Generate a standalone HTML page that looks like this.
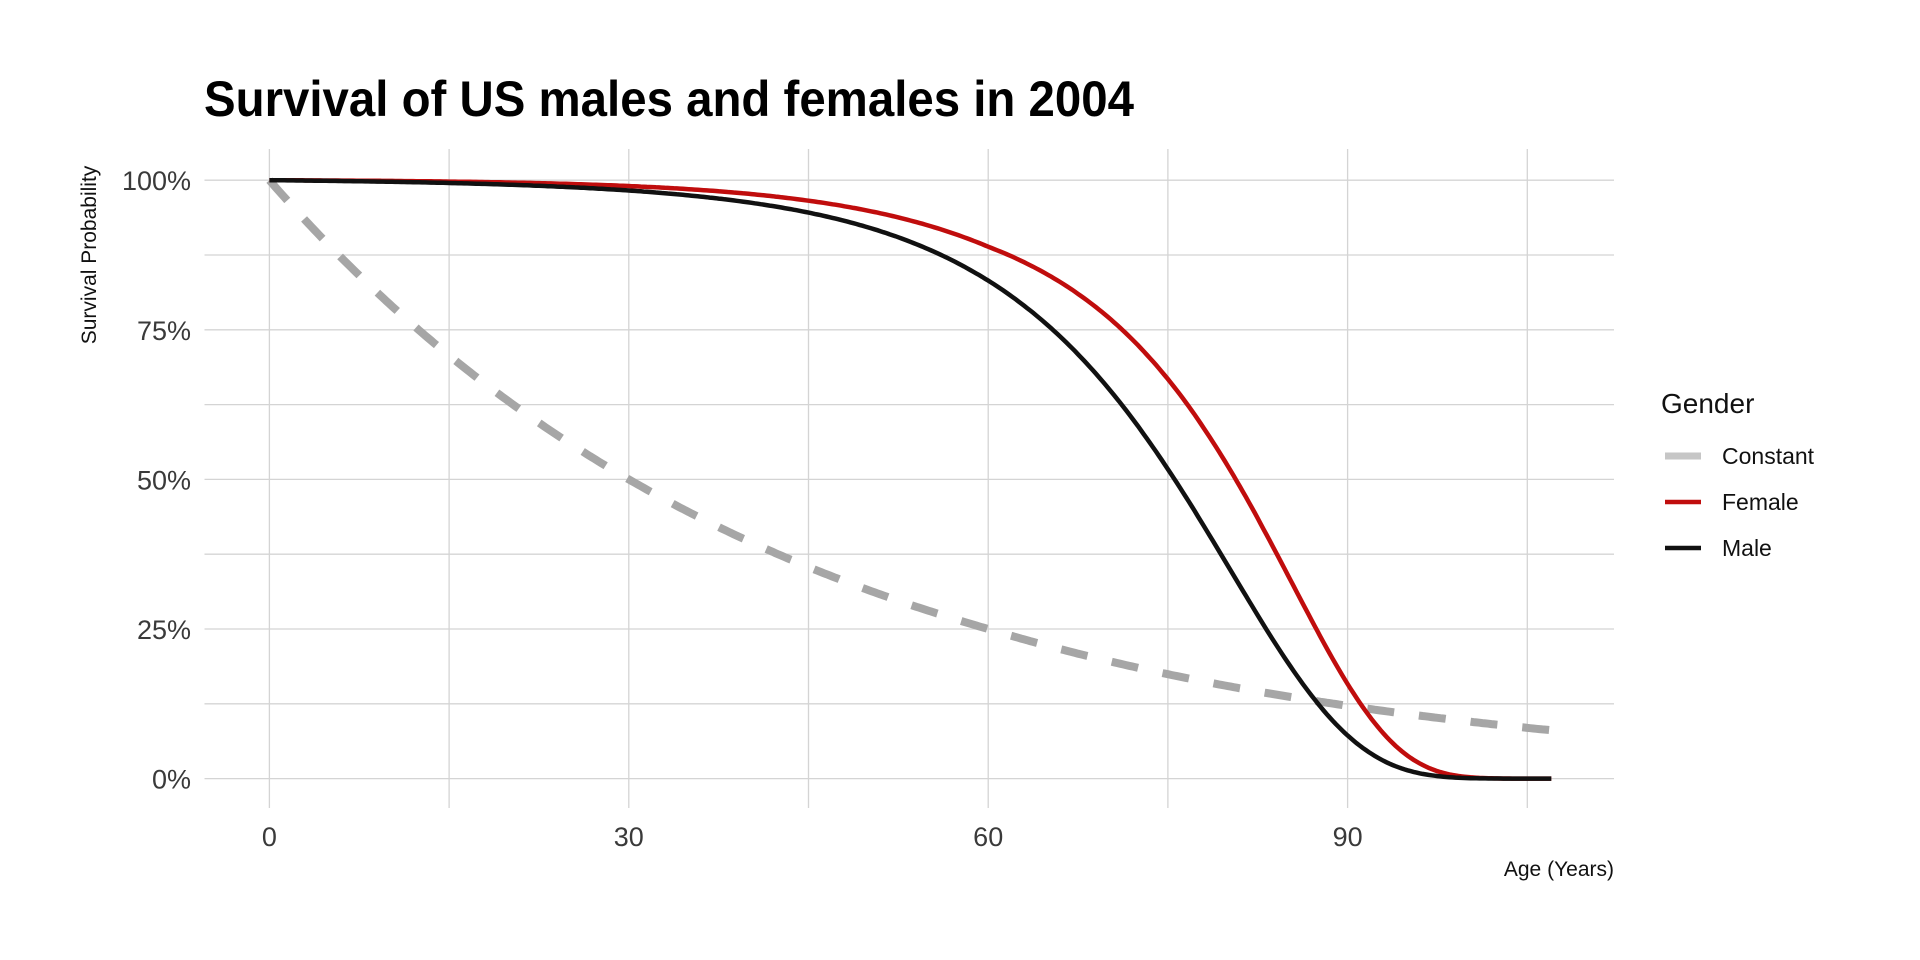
<!DOCTYPE html>
<html><head><style>body{margin:0;background:#fff}svg{display:block}text{font-family:"Liberation Sans",sans-serif}</style></head>
<body>
<svg id="s" width="1920" height="960" viewBox="0 0 1920 960" xmlns="http://www.w3.org/2000/svg">
<text x="204" y="116" font-size="50" font-weight="bold" fill="#000" textLength="930" lengthAdjust="spacingAndGlyphs">Survival of US males and females in 2004</text>
<g id="grid" stroke="#d4d4d4" stroke-width="1.3"></g>
<g id="lab" fill="#3a3a3a" font-size="27"></g>
<text transform="translate(96,255) rotate(-90)" text-anchor="middle" font-size="21" fill="#111">Survival Probability</text>
<text x="1614" y="876" text-anchor="end" font-size="21" fill="#111">Age (Years)</text>
<g id="curves" fill="none"></g>
<text x="1661" y="413" font-size="28" fill="#111">Gender</text>
<line x1="1665" y1="456" x2="1701" y2="456" stroke="#c6c6c6" stroke-width="7"/>
<line x1="1665" y1="502" x2="1701" y2="502" stroke="#c00d0d" stroke-width="4.5"/>
<line x1="1665" y1="548" x2="1701" y2="548" stroke="#111" stroke-width="4.5"/>
<text x="1722" y="464" font-size="23" fill="#111">Constant</text>
<text x="1722" y="510" font-size="23" fill="#111">Female</text>
<text x="1722" y="556" font-size="23" fill="#111">Male</text>
</svg>
<script>
var NS="http://www.w3.org/2000/svg";
function X(a){return 269.4+11.98*a}function Y(p){return 778.6-5.984*p}
function el(t,at,par,txt){var e=document.createElementNS(NS,t);for(var k in at)e.setAttribute(k,at[k]);if(txt!==undefined)e.textContent=txt;document.getElementById(par).appendChild(e);return e}
for(var p=0;p<=100;p+=12.5)el('line',{x1:204.5,x2:1614,y1:Y(p),y2:Y(p)},'grid');
for(var a=0;a<=105;a+=15)el('line',{x1:X(a),x2:X(a),y1:149,y2:808},'grid');
[0,25,50,75,100].forEach(function(p){el('text',{x:191,y:Y(p)+10,'text-anchor':'end'},'lab',p+'%')});
[0,30,60,90].forEach(function(a){el('text',{x:X(a),y:846,'text-anchor':'middle'},'lab',String(a))});
function surv(A,B,C,L){var H=function(a){var t=a-60,lh=(t<0&&L)?A+L*t:A+B*t+C*t*t;return Math.exp(lh)};var H0=H(0);
  return function(a){return 100*Math.exp(-(H(a)-H0))}}
var fem=surv(-2.13,0.0721,0.000644,0.08);
var male=surv(-1.674,0.0804,0.000256,0);
var cons=function(a){return 100*Math.exp(-a*Math.LN2/30)*(1-0.0009*Math.max(0,a-60))};
function path(f){var d='';for(var a=0;a<=107.01;a+=0.25){d+=(a?'L':'M')+X(a).toFixed(1)+','+Y(f(a)).toFixed(1)}return d}
el('path',{d:path(cons),stroke:'#a6a6a6','stroke-width':8,'stroke-dasharray':'27 25'},'curves');
el('path',{d:path(fem),stroke:'#c00d0d','stroke-width':4.5},'curves');
el('path',{d:path(male),stroke:'#111','stroke-width':4.5},'curves');
</script>
</body></html>
